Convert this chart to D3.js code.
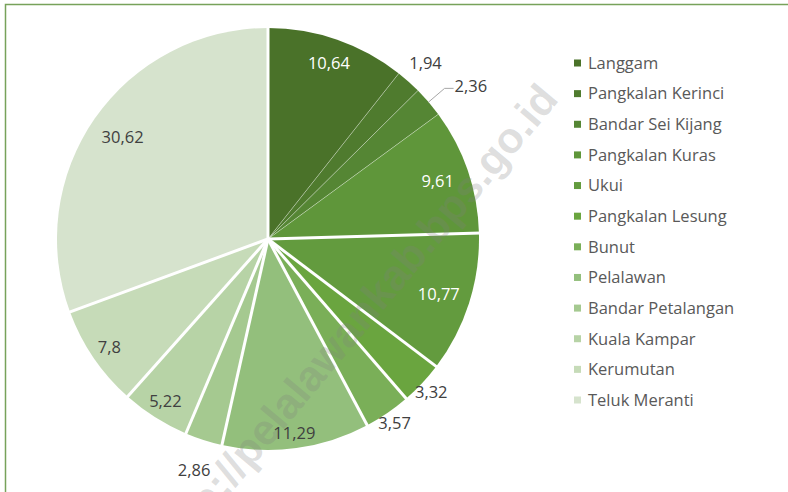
<!DOCTYPE html>
<html>
<head>
<meta charset="utf-8">
<script src="https://cdn.jsdelivr.net/npm/d3@7"></script>
<style>
  body { margin: 0; background: #fff; }
  svg { display: block; }
</style>
</head>
<body>
<svg id="chart" width="788" height="492"></svg>
<script>
// Kecamatan and their share (%)
let districts = ["Langgam", "Pangkalan Kerinci", "Bandar Sei Kijang", "Pangkalan Kuras", "Ukui",
    "Pangkalan Lesung", "Bunut", "Pelalawan", "Bandar Petalangan", "Kuala Kampar", "Kerumutan", "Teluk Meranti"];
let shares = [10.64, 1.94, 2.36, 9.61, 10.77, 3.32, 3.57, 11.29, 2.86, 5.22, 7.8, 30.62];
let shareLabels = ["10,64", "1,94", "2,36", "9,61", "10,77", "3,32", "3,57", "11,29", "2,86", "5,22", "7,8", "30,62"];

let colors = ["#4a7229", "#4f7b2e", "#558634", "#5f963a", "#639b3e", "#6aa53f",
    "#7aaf58", "#93bf7c", "#a5c990", "#b7d3a6", "#c6dbb8", "#d6e3cd"];

let sizes = { cx: 268, cy: 239, radius: 211 };
// label distance from centre, as a share of the radius
let labelRadius = [0.88, 1.12, 1.1, 0.85, 0.85, 1.06, 1.06, 0.93, 1.15, 0.91, 0.91, 0.84];
let insideWhite = [true, false, false, true, true, false, false, false, false, false, false, false];
let thinEdges = [1, 2, 3]; // boundaries drawn as thin lines

let svg = d3.select("#chart");

// frame
svg.append("rect")
    .attr("x", 5.5).attr("y", 4.5)
    .attr("width", 900).attr("height", 600)
    .attr("fill", "none")
    .attr("stroke", "#77a25a")
    .attr("stroke-width", 1.5);

let pie = d3.pie().sort(null);
let slices = pie(shares);
let arc = d3.arc().innerRadius(0).outerRadius(sizes.radius);

let g = svg.append("g")
    .attr("transform", `translate(${sizes.cx}, ${sizes.cy})`);

g.selectAll("path.slice")
    .data(slices)
    .enter()
    .append("path")
    .attr("class", "slice")
    .attr("d", arc)
    .attr("fill", (d, i) => colors[i]);

// slice boundaries
let rimPoint = (a, r) => [Math.sin(a) * r, -Math.cos(a) * r];
g.selectAll("line.edge")
    .data(slices)
    .enter()
    .append("line")
    .attr("class", "edge")
    .attr("x1", 0).attr("y1", 0)
    .attr("x2", (d) => rimPoint(d.startAngle, sizes.radius + 2)[0])
    .attr("y2", (d) => rimPoint(d.startAngle, sizes.radius + 2)[1])
    .attr("stroke", (d, i) => thinEdges.includes(i) ? "rgba(255,255,255,0.45)" : "#fff")
    .attr("stroke-width", (d, i) => thinEdges.includes(i) ? 0.8 : 3);

// watermark
svg.append("text")
    .attr("transform", "translate(560, 100) rotate(-50)")
    .attr("text-anchor", "end")
    .attr("font-family", "Liberation Sans, Arial, sans-serif")
    .attr("font-weight", "bold")
    .attr("font-size", 43)
    .attr("fill", "#7f7f7f")
    .attr("fill-opacity", 0.26)
    .text("http://pelalawankab.bps.go.id");

// leader line for the small 2,36 slice
let leaderIdx = 2;
let ls = slices[leaderIdx];
let mid = (ls.startAngle + ls.endAngle) / 2;
let p0 = rimPoint(mid, sizes.radius);
let p1 = rimPoint(mid, sizes.radius * 1.1);
g.append("polyline")
    .attr("points", [p0, p1, [p1[0] + 9, p1[1]]].map((p) => p.join(",")).join(" "))
    .attr("fill", "none")
    .attr("stroke", "#a6a6a6")
    .attr("stroke-width", 1);

// data labels
g.selectAll("text.val")
    .data(slices)
    .enter()
    .append("text")
    .attr("class", "val")
    .attr("transform", (d, i) => {
        let a = (d.startAngle + d.endAngle) / 2;
        let p = rimPoint(a, sizes.radius * labelRadius[i]);
        if (i === leaderIdx) {
            return `translate(${p1[0] + 10}, ${p1[1] - 2})`;
        }
        return `translate(${p[0]}, ${p[1]})`;
    })
    .attr("text-anchor", (d, i) => i === leaderIdx ? "start" : "middle")
    .attr("dy", "0.35em")
    .attr("font-family", "Open Sans, sans-serif")
    .attr("font-size", 16.5)
    .attr("fill", (d, i) => insideWhite[i] ? "#fff" : "#404040")
    .text((d, i) => shareLabels[i]);

// legend
let legendY = d3.scalePoint()
    .domain(districts)
    .range([63, 400]);

let legend = svg.append("g")
    .selectAll("g")
    .data(districts)
    .enter()
    .append("g")
    .attr("transform", (d) => `translate(574, ${legendY(d)})`);

legend.append("rect")
    .attr("x", 0).attr("y", -3.5)
    .attr("width", 7).attr("height", 7)
    .attr("fill", (d, i) => colors[i]);

legend.append("text")
    .attr("x", 14)
    .attr("dy", "0.35em")
    .attr("font-family", "Open Sans, sans-serif")
    .attr("font-size", 16.5)
    .attr("fill", "#595959")
    .text((d) => d);
</script>
</body>
</html>
